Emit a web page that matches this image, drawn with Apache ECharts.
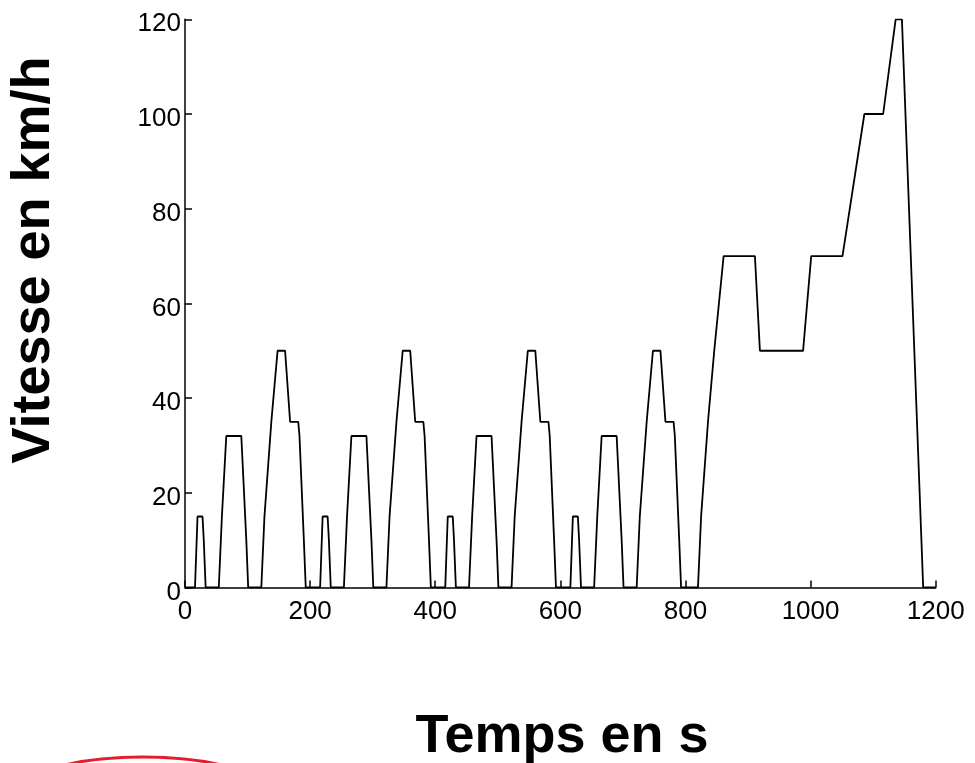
<!DOCTYPE html>
<html>
<head>
<meta charset="utf-8">
<title>Cycle NEDC</title>
<script src="https://cdn.jsdelivr.net/npm/echarts@6/dist/echarts.min.js"></script>
<style>
  html, body { margin: 0; padding: 0; background: #ffffff; }
  #chart { width: 975px; height: 763px; }
</style>
</head>
<body>
<div id="chart"></div>
<script>
// Urban cycles (ECE-15), four runs of 200 s each: time in s, speed in km/h
const ece1Time  = [0, 16, 20, 28, 30, 33, 54, 59, 61, 66, 90, 98, 101, 122, 127, 129, 138, 140, 148, 160, 168, 181, 183, 190, 193, 200];
const ece1Speed = [0, 0, 15, 15, 10, 0, 0, 15, 15, 32, 32, 10, 0, 0, 15, 15, 35, 35, 50, 50, 35, 35, 32, 10, 0, 0];

const ece2Time  = [200, 216, 220, 228, 230, 233, 254, 259, 261, 266, 290, 298, 301, 322, 327, 329, 338, 340, 348, 360, 368, 381, 383, 390, 393, 400];
const ece2Speed = [0, 0, 15, 15, 10, 0, 0, 15, 15, 32, 32, 10, 0, 0, 15, 15, 35, 35, 50, 50, 35, 35, 32, 10, 0, 0];

const ece3Time  = [400, 416, 420, 428, 430, 433, 454, 459, 461, 466, 490, 498, 501, 522, 527, 529, 538, 540, 548, 560, 568, 581, 583, 590, 593, 600];
const ece3Speed = [0, 0, 15, 15, 10, 0, 0, 15, 15, 32, 32, 10, 0, 0, 15, 15, 35, 35, 50, 50, 35, 35, 32, 10, 0, 0];

const ece4Time  = [600, 616, 620, 628, 630, 633, 654, 659, 661, 666, 690, 698, 701, 722, 727, 729, 738, 740, 748, 760, 768, 781, 783, 790, 793, 800];
const ece4Speed = [0, 0, 15, 15, 10, 0, 0, 15, 15, 32, 32, 10, 0, 0, 15, 15, 35, 35, 50, 50, 35, 35, 32, 10, 0, 0];

// Extra-urban cycle (EUDC)
const eudcTime  = [800, 820, 825, 827, 836, 838, 846, 848, 861, 911, 919, 988, 1001, 1051, 1086, 1116, 1136, 1146, 1180, 1200];
const eudcSpeed = [0, 0, 15, 15, 35, 35, 50, 50, 70, 70, 50, 50, 70, 70, 100, 100, 120, 120, 0, 0];

// Axis ticks
const xTicks = [0, 200, 400, 600, 800, 1000, 1200];
const yTicks = [0, 20, 40, 60, 80, 100, 120];

const segments = [
  [ece1Time, ece1Speed],
  [ece2Time, ece2Speed],
  [ece3Time, ece3Speed],
  [ece4Time, ece4Speed],
  [eudcTime, eudcSpeed]
];
const points = [];
segments.forEach(([ts, vs]) => {
  ts.forEach((t, i) => {
    const last = points[points.length - 1];
    if (last && last[0] === t && last[1] === vs[i]) return;
    points.push([t, vs[i]]);
  });
});

const FONT = '"Liberation Sans", Arial, Helvetica, sans-serif';

const chart = echarts.init(document.getElementById('chart'), null, { renderer: 'canvas' });
chart.setOption({
  animation: false,
  backgroundColor: '#ffffff',
  grid: { left: 185, right: 39.3, top: 19.3, bottom: 175.5, containLabel: false },
  xAxis: {
    type: 'value',
    min: xTicks[0],
    max: xTicks[xTicks.length - 1],
    interval: xTicks[1] - xTicks[0],
    axisLine: { show: true, lineStyle: { color: '#000', width: 1.5 } },
    axisTick: { show: true, inside: true, length: 7, lineStyle: { color: '#000', width: 1.5 } },
    axisLabel: {
      color: '#000', fontSize: 26, fontFamily: FONT, margin: 11,
      formatter: (v) => String(v)
    },
    splitLine: { show: false }
  },
  yAxis: {
    type: 'value',
    min: yTicks[0],
    max: yTicks[yTicks.length - 1],
    interval: yTicks[1] - yTicks[0],
    axisLine: { show: true, lineStyle: { color: '#000', width: 1.5 } },
    axisTick: { show: true, inside: true, length: 7, lineStyle: { color: '#000', width: 1.5 } },
    axisLabel: {
      color: '#000', fontSize: 26, fontFamily: FONT, margin: 4,
      verticalAlign: 'top', padding: [-8, 0, 0, 0],
      formatter: (v) => String(v)
    },
    splitLine: { show: false }
  },
  series: [{
    type: 'line',
    data: points,
    showSymbol: false,
    symbol: 'none',
    lineStyle: { color: '#000', width: 1.8 },
    z: 3
  }],
  graphic: [
    {
      type: 'text',
      x: 34, y: 260,
      rotation: Math.PI / 2,
      style: {
        text: 'Vitesse en km/h',
        fontFamily: FONT, fontWeight: 'bold', fontSize: 54,
        fill: '#000', align: 'center', verticalAlign: 'middle'
      }
    },
    {
      type: 'text',
      x: 562, y: 737,
      style: {
        text: 'Temps en s',
        fontFamily: FONT, fontWeight: 'bold', fontSize: 54,
        fill: '#000', align: 'center', verticalAlign: 'middle'
      }
    },
    {
      type: 'ellipse',
      shape: { cx: 143, cy: 787, rx: 115, ry: 30 },
      style: { fill: 'none', stroke: '#e41d2b', lineWidth: 3 }
    }
  ]
});
</script>
</body>
</html>
